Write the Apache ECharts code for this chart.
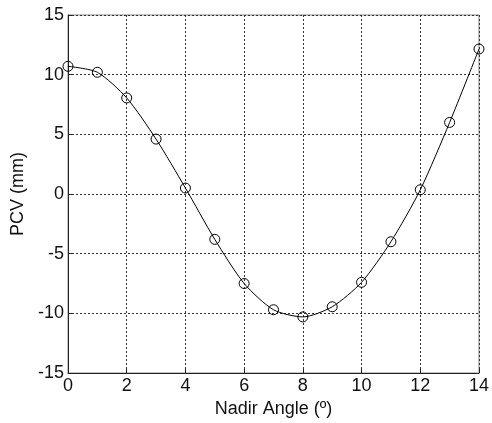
<!DOCTYPE html>
<html lang="en">
<head>
    <meta charset="UTF-8">
    <title>PCV vs Nadir Angle</title>
    <script src="https://cdnjs.cloudflare.com/ajax/libs/echarts/6.0.0/echarts.min.js"></script>
    <style>
        body { margin: 0; background: #fff; }
    </style>
</head>
<body>
    <div id="main" style="width: 492px;height:423px;"></div>
    <script type="text/javascript">
        // nadir angle (deg) and PCV (mm)
        const nadirAngles = [0, 1, 2, 3, 4, 5, 6, 7, 8, 9, 10, 11, 12, 13, 14];
        const pcvValues = [10.7, 10.2, 8.05, 4.6, 0.5, -3.8, -7.5, -9.7, -10.3, -9.45, -7.4, -4.0, 0.35, 6.0, 12.15];

        const chart = echarts.init(document.getElementById('main'));
        const font = 'Liberation Sans, Arial, sans-serif';

        const option = {
            backgroundColor: '#fff',
            animation: false,
            grid: {
                left: 68, top: 15, width: 412, height: 358,
                show: true, borderColor: '#888', borderWidth: 1
            },
            xAxis: {
                type: 'value', min: 0, max: 14, interval: 2,
                name: 'Nadir Angle (º)', nameLocation: 'middle', nameGap: 27,
                nameTextStyle: { fontFamily: font, fontSize: 18, color: '#111' },
                axisLine: { onZero: false, lineStyle: { color: '#222' } },
                axisTick: { inside: true, length: 4, lineStyle: { color: '#222' } },
                axisLabel: { fontFamily: font, fontSize: 18, color: '#111', margin: 4 },
                splitLine: { show: true, lineStyle: { color: '#333', type: [2, 2] } }
            },
            yAxis: {
                type: 'value', min: -15, max: 15, interval: 5,
                name: 'PCV (mm)', nameLocation: 'middle', nameGap: 41,
                nameTextStyle: { fontFamily: font, fontSize: 18, color: '#111' },
                axisLine: { onZero: false, lineStyle: { color: '#222' } },
                axisTick: { inside: true, length: 4, lineStyle: { color: '#222' } },
                axisLabel: { fontFamily: font, fontSize: 18, color: '#111', margin: 4 },
                splitLine: { show: true, lineStyle: { color: '#333', type: [2, 2] } }
            },
            series: [{
                type: 'line',
                data: nadirAngles.map((a, i) => [a, pcvValues[i]]),
                smooth: 0.25,
                symbol: 'circle',
                symbolSize: 10,
                lineStyle: { color: '#000', width: 1 },
                itemStyle: { color: 'rgba(0,0,0,0)', borderColor: '#000', borderWidth: 1 }
            }]
        };
        chart.setOption(option);
    </script>
</body>
</html>
